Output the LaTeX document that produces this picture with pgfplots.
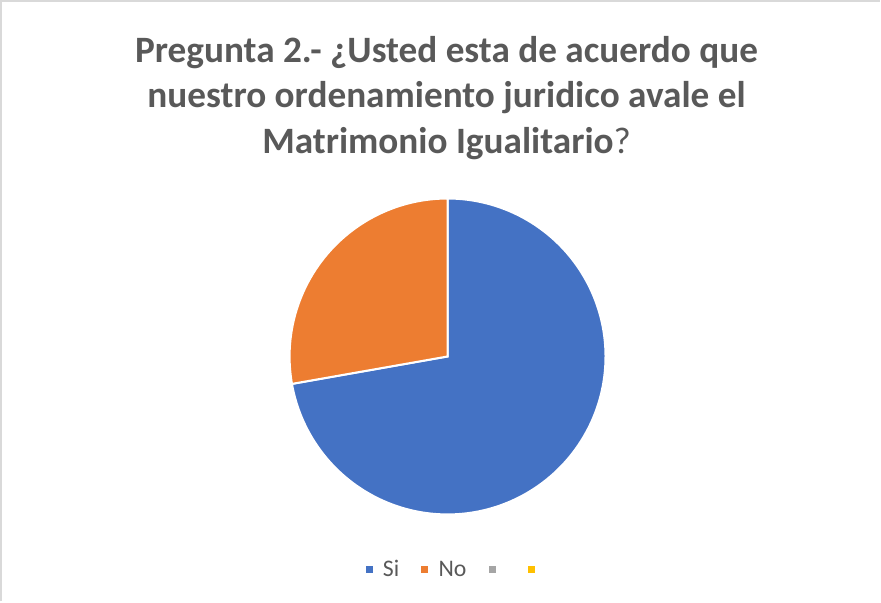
\documentclass[border=0pt]{standalone}
\usepackage{pgfplots}
\pgfplotsset{compat=1.18}
\usepackage{pgfplotstable}
\usepackage{fontspec}
\setmainfont{Carlito}
\definecolor{pieblue}{HTML}{4472C4}
\definecolor{pieorange}{HTML}{ED7D31}
\definecolor{piegray}{HTML}{A5A5A5}
\definecolor{pieyellow}{HTML}{FFC000}
\definecolor{txtgray}{HTML}{595959}
\definecolor{framegray}{HTML}{D9D9D9}
\pgfplotstableread{
label value
Si 26
No 10
}\piedata
\pgfplotstablegetelem{0}{value}\of\piedata
\pgfmathsetmacro\vSi{\pgfplotsretval}
\pgfplotstablegetelem{1}{value}\of\piedata
\pgfmathsetmacro\vNo{\pgfplotsretval}
\pgfmathsetmacro\vTot{\vSi+\vNo}
\pgfmathsetmacro\aSi{90-360*\vSi/\vTot}
\pgfmathsetmacro\aNo{90+360*\vNo/\vTot}
\begin{document}
\begin{tikzpicture}
\begin{axis}[
  scale only axis, width=440.5pt, height=301.5pt,
  xmin=0, xmax=881, ymin=0, ymax=603,
  hide axis, clip=false,
  legend columns=4,
  legend style={at={(0.523,0.052)}, anchor=center, draw=none, fill=none,
    font=\fontsize{11.8}{13}\selectfont\color{txtgray},
    /tikz/every even column/.append style={column sep=9pt}},
  legend cell align=left,
  legend image code/.code={\fill[#1,draw=none] (0pt,-1.75pt) rectangle (3.5pt,1.75pt); \path[draw=none,fill=none] (0pt,0pt) -- (6.5pt,0pt);},
]
\draw[framegray, line width=0.8pt] (axis cs:7,0) -- (axis cs:7,597) -- (axis cs:881,597);
\addplot[fill=pieblue, draw=white, line width=1pt, domain=\aSi:90, samples=181, variable=\t, forget plot]
  ({451+157*cos(\t)},{243.5+157*sin(\t)}) -- (axis cs:451,243.5) -- cycle;
\addplot[fill=pieorange, draw=white, line width=1pt, domain=90:\aNo, samples=91, variable=\t, forget plot]
  ({451+157*cos(\t)},{243.5+157*sin(\t)}) -- (axis cs:451,243.5) -- cycle;
\addlegendimage{pieblue}
\addlegendentry{Si}
\addlegendimage{pieorange}
\addlegendentry{No}
\addlegendimage{piegray}
\addlegendentry{}
\addlegendimage{pieyellow}
\addlegendentry{}
\node[anchor=base, text=txtgray, font=\fontsize{18.5}{20}\selectfont\bfseries, inner sep=0pt] at (axis cs:450,536) {Pregunta 2.- ¿Usted esta de acuerdo que};
\node[anchor=base, text=txtgray, font=\fontsize{18.5}{20}\selectfont\bfseries, inner sep=0pt] at (axis cs:450,490.5) {nuestro ordenamiento juridico avale el};
\node[anchor=base, text=txtgray, font=\fontsize{18.5}{20}\selectfont, inner sep=0pt] at (axis cs:450,445) {\textbf{Matrimonio Igualitario}?};
\end{axis}
\end{tikzpicture}
\end{document}
